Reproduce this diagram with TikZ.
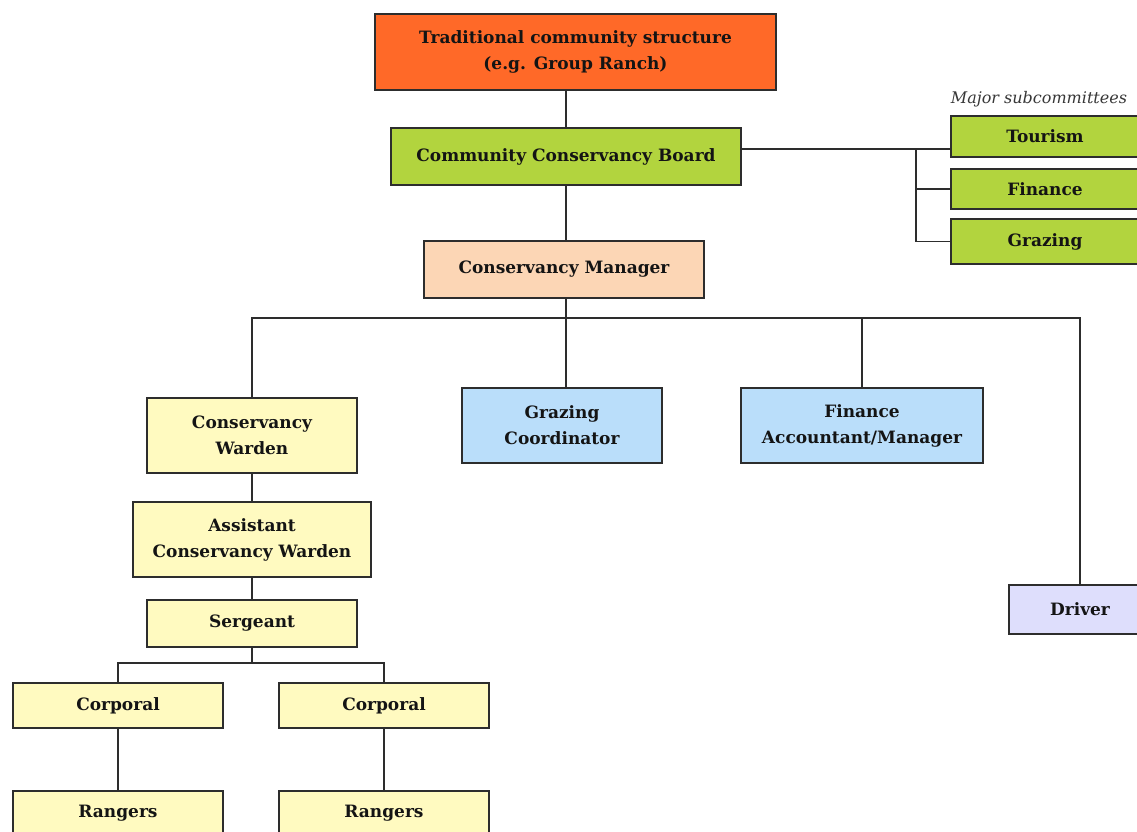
\documentclass[tikz,border=0pt]{standalone}
\usepackage{fontspec}
\setmainfont{DejaVu Serif}
\definecolor{corange}{RGB}{255,105,40}
\definecolor{cgreen}{RGB}{178,212,62}
\definecolor{cpeach}{RGB}{252,214,181}
\definecolor{cyellow}{RGB}{255,250,192}
\definecolor{cblue}{RGB}{186,222,250}
\definecolor{clav}{RGB}{222,222,252}
\definecolor{cline}{RGB}{45,45,45}
\definecolor{ctext}{RGB}{20,20,20}
\begin{document}
\begin{tikzpicture}[x=1pt,y=-1pt,
  box/.style={draw=cline, line width=1.3pt, inner sep=2pt, align=center,
    font=\fontsize{17}{26}\selectfont\bfseries, text=ctext},
  conn/.style={draw=cline, line width=1.1pt}]
\clip (0,0) rectangle (1137,832);
\fill[white] (0,0) rectangle (1137,832);
% nodes
\node[box, fill=corange, minimum width=401pt, minimum height=76pt] (trad) at (575.5,52) {Traditional community structure\\(e.g. Group Ranch)};
\node[box, fill=cgreen, minimum width=350pt, minimum height=57pt] (board) at (566,156.5) {Community Conservancy Board};
\node[box, fill=cgreen, minimum width=188pt, minimum height=41pt] (tour) at (1045,136.5) {Tourism};
\node[box, fill=cgreen, minimum width=188pt, minimum height=40pt] (fin) at (1045,189) {Finance};
\node[box, fill=cgreen, minimum width=188pt, minimum height=45pt] (graz) at (1045,241.5) {Grazing};
\node[font=\fontsize{16}{18}\selectfont\itshape, text=ctext!85] (sublabel) at (1039,99) {Major subcommittees};
\node[box, fill=cpeach, minimum width=280pt, minimum height=57pt] (mgr) at (564,269.5) {Conservancy Manager};
\node[box, fill=cyellow, minimum width=210pt, minimum height=75pt] (warden) at (252,435.5) {Conservancy\\Warden};
\node[box, fill=cblue, minimum width=200pt, minimum height=75pt] (gc) at (562,425.5) {Grazing\\Coordinator};
\node[box, fill=cblue, minimum width=242pt, minimum height=75pt] (fa) at (862,425.5) {Finance\\Accountant/Manager};
\node[box, fill=clav, minimum width=142pt, minimum height=49pt] (driver) at (1080,609.5) {Driver};
\node[box, fill=cyellow, minimum width=238pt, minimum height=75pt] (asst) at (252,539.5) {Assistant\\Conservancy Warden};
\node[box, fill=cyellow, minimum width=210pt, minimum height=47pt] (serg) at (252,623.5) {Sergeant};
\node[box, fill=cyellow, minimum width=210pt, minimum height=45pt] (corpL) at (118,705.5) {Corporal};
\node[box, fill=cyellow, minimum width=210pt, minimum height=45pt] (corpR) at (384,705.5) {Corporal};
\node[box, fill=cyellow, minimum width=210pt, minimum height=44pt] (rangL) at (118,813) {Rangers};
\node[box, fill=cyellow, minimum width=210pt, minimum height=44pt] (rangR) at (384,813) {Rangers};
% coordinates
\coordinate (j) at (916,149);
\coordinate (bus) at (566,318);
\coordinate (sbus) at (252,663);
% connectors
\draw[conn] (board.north) -- (board.north |- trad.south);
\draw[conn] (board.south) -- (board.south |- mgr.north);
\draw[conn] (board.east |- j) -- (j) -- (tour.west |- j);
\draw[conn] (j) |- (fin.west);
\draw[conn] (j) |- (graz.west);
\draw[conn] (mgr.south -| bus) -- (bus);
\draw[conn] (warden.north) -- (warden.north |- bus) -- (driver.north |- bus) -- (driver.north);
\draw[conn] (bus) -- (bus |- gc.north);
\draw[conn] (fa.north |- bus) -- (fa.north);
\draw[conn] (warden.south) -- (asst.north);
\draw[conn] (asst.south) -- (serg.north);
\draw[conn] (serg.south) -- (sbus);
\draw[conn] (corpL.north) -- (corpL.north |- sbus) -- (corpR.north |- sbus) -- (corpR.north);
\draw[conn] (corpL.south) -- (rangL.north);
\draw[conn] (corpR.south) -- (rangR.north);
\end{tikzpicture}
\end{document}
